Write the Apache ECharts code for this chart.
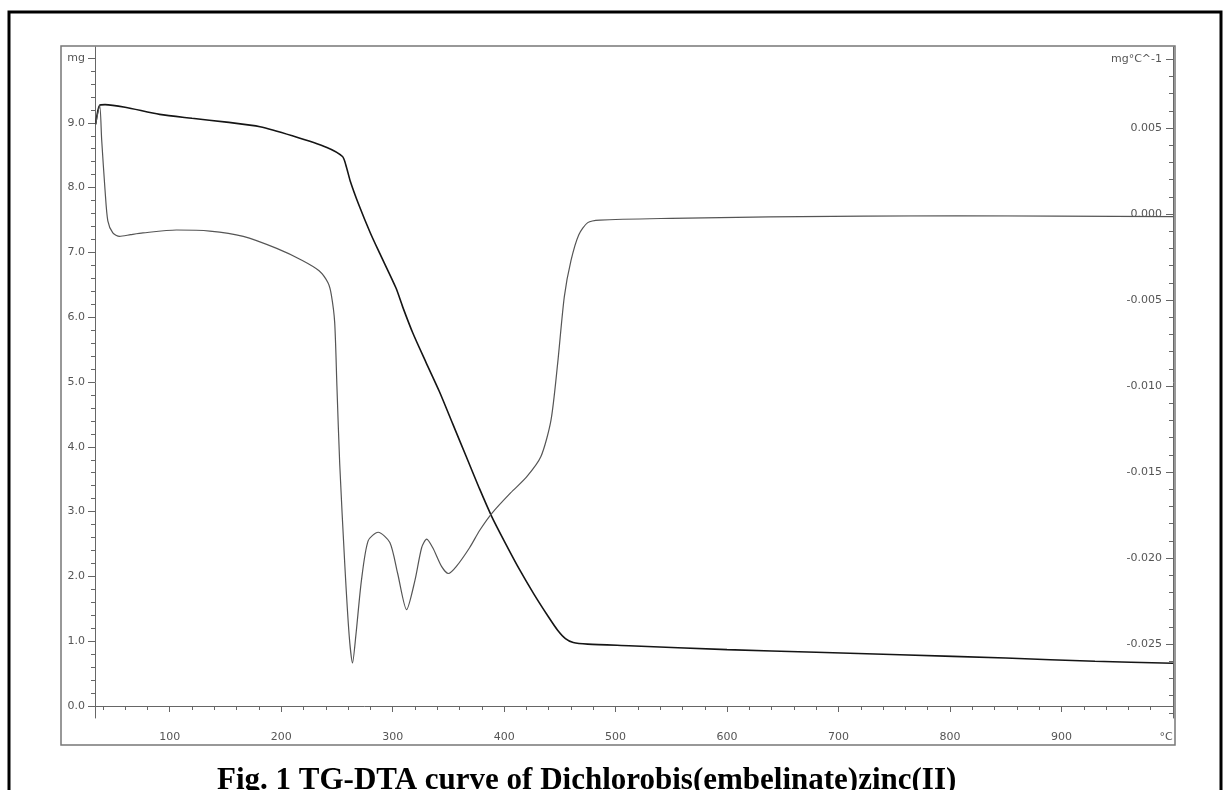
<!DOCTYPE html>
<html><head><meta charset="utf-8">
<script src="https://cdn.jsdelivr.net/npm/echarts@6/dist/echarts.min.js"></script>
<style>html,body{margin:0;padding:0;background:#fff;overflow:hidden}#c{width:1225px;height:790px}</style>
</head><body><div id="c"></div>
<script>
// ---- data ----
const tgTemp = [33.6, 37.2, 42, 60, 91, 120, 151, 181, 210, 241, 255, 258, 262, 270, 280, 288, 303, 309, 318, 330, 342, 354, 366, 378, 389, 400, 414, 427, 440, 448, 455, 462, 475, 512, 600, 680, 755, 850, 930, 1000];
const tgMass = [8.98, 9.27, 9.28, 9.24, 9.13, 9.07, 9.01, 8.94, 8.80, 8.62, 8.48, 8.35, 8.10, 7.72, 7.30, 7.00, 6.45, 6.16, 5.76, 5.30, 4.85, 4.35, 3.85, 3.35, 2.92, 2.55, 2.10, 1.72, 1.37, 1.17, 1.04, 0.98, 0.955, 0.93, 0.87, 0.83, 0.79, 0.74, 0.69, 0.66];
const dtaTemp = [33.6, 37.2, 39, 42, 44.5, 49, 55, 65, 76, 106, 136, 166, 196, 219, 234, 242, 245, 248, 250, 252.5, 257, 261, 264, 267, 272, 278, 287, 297.5, 304.5, 312.5, 320, 326, 330.5, 336, 344, 350, 357, 369, 378, 389, 406, 420, 433, 442, 448, 454, 460, 467, 475, 486, 550, 638, 807, 1000];
const dtaSignal = [0.0052, 0.0063, 0.0043, 0.0014, -0.0004, -0.0011, -0.0013, -0.0012, -0.0011, -0.00093, -0.00099, -0.0013, -0.0020, -0.0027, -0.0033, -0.0040, -0.0047, -0.0063, -0.0100, -0.0145, -0.0203, -0.0245, -0.0261, -0.0245, -0.0213, -0.0190, -0.0185, -0.0191, -0.0209, -0.0230, -0.0213, -0.0194, -0.0189, -0.0194, -0.0205, -0.0209, -0.0205, -0.0194, -0.0184, -0.0174, -0.0162, -0.0153, -0.0141, -0.0120, -0.0087, -0.0048, -0.0027, -0.0012, -0.0005, -0.00035, -0.00025, -0.00017, -0.0001, -0.00015];

const tempTicks = [100, 200, 300, 400, 500, 600, 700, 800, 900, 1000];
const massTicks = [0, 1, 2, 3, 4, 5, 6, 7, 8, 9, 10];
const dtaTicks = [0.009, 0.005, 0, -0.005, -0.010, -0.015, -0.020, -0.025];
const tempUnit = '°C';
const massUnit = 'mg';
const dtaUnit = 'mg°C^-1';
const titleText = 'Fig. 1 TG-DTA curve of Dichlorobis(embelinate)zinc(II)';

// minor tick positions
const tempMinor = [];
for (let t = 40; t < 1000; t += 20) if (t % 100 !== 0) tempMinor.push(t);
const massMinor = [];
for (let i = 1; i <= 50; i++) if (i % 5 !== 0) massMinor.push(i / 5);
const dtaMinor = [];
for (let i = -29; i <= 9; i++) if (i % 5 !== 0 && i !== 9) dtaMinor.push(i / 1000);

const axisGray = '#666';
const labelFont = '"DejaVu Sans", Verdana, sans-serif';
const labelStyle = { color: '#555', fontSize: 11, fontFamily: labelFont };

const chart = echarts.init(document.getElementById('c'), null, { renderer: 'canvas' });
chart.setOption({
  animation: false,
  backgroundColor: '#fff',
  grid: { left: 95, right: 52, top: 47, bottom: 72, containLabel: false },
  xAxis: [
    {
      type: 'value', min: 33, max: 1000, position: 'bottom',
      axisLine: { show: true, lineStyle: { color: axisGray, width: 1 } },
      axisTick: { show: true, customValues: tempTicks, length: 6, lineStyle: { color: axisGray } },
      axisLabel: Object.assign({
        customValues: tempTicks, margin: 14,
        formatter: v => (v === 1000 ? '{u|' + tempUnit + '}' : String(v)),
        rich: { u: { color: '#555', fontSize: 11, fontFamily: labelFont, padding: [0, 14, 0, 0] } }
      }, labelStyle),
      splitLine: { show: false }
    },
    {
      type: 'value', min: 33, max: 1000, position: 'bottom',
      axisLine: { show: false },
      axisTick: { show: true, customValues: tempMinor, length: 4, lineStyle: { color: axisGray } },
      axisLabel: { show: false },
      splitLine: { show: false }
    }
  ],
  yAxis: [
    {
      type: 'value', min: -0.185, max: 10.17, position: 'left',
      axisLine: { show: true, lineStyle: { color: axisGray, width: 1 } },
      axisTick: { show: true, customValues: massTicks, length: 7, lineStyle: { color: axisGray } },
      axisLabel: Object.assign({ customValues: massTicks, margin: 10, formatter: v => (v === 10 ? massUnit : v.toFixed(1)) }, labelStyle),
      splitLine: { show: false }
    },
    {
      type: 'value', min: -0.185, max: 10.17, position: 'left',
      axisLine: { show: false },
      axisTick: { show: true, customValues: massMinor, length: 4, lineStyle: { color: axisGray } },
      axisLabel: { show: false },
      splitLine: { show: false }
    },
    {
      type: 'value', min: -0.0293, max: 0.00971, position: 'right',
      axisLine: { show: true, lineStyle: { color: axisGray, width: 1 } },
      axisTick: { show: true, inside: true, customValues: dtaTicks, length: 7, lineStyle: { color: axisGray } },
      axisLabel: Object.assign({ inside: true, customValues: dtaTicks, margin: 11, formatter: v => (v > 0.008 ? dtaUnit : v.toFixed(3)) }, labelStyle),
      splitLine: { show: false }
    },
    {
      type: 'value', min: -0.0293, max: 0.00971, position: 'right',
      axisLine: { show: false },
      axisTick: { show: true, inside: true, customValues: dtaMinor, length: 4, lineStyle: { color: axisGray } },
      axisLabel: { show: false },
      splitLine: { show: false }
    }
  ],
  series: [
    {
      name: 'TG', type: 'line', xAxisIndex: 0, yAxisIndex: 0,
      data: tgTemp.map((t, i) => [t, tgMass[i]]),
      showSymbol: false, smooth: 0.25,
      lineStyle: { color: '#151515', width: 1.6 }
    },
    {
      name: 'DTA', type: 'line', xAxisIndex: 0, yAxisIndex: 2,
      data: dtaTemp.map((t, i) => [t, dtaSignal[i]]),
      showSymbol: false, smooth: 0.25,
      lineStyle: { color: '#555', width: 1.2 }
    }
  ],
  graphic: [
    { type: 'rect', silent: true, z: -1, shape: { x: 61, y: 46, width: 1114, height: 699 }, style: { fill: null, stroke: '#777', lineWidth: 1.5 } },
    { type: 'rect', silent: true, z: -1, shape: { x: 9, y: 12, width: 1212, height: 800 }, style: { fill: null, stroke: '#000', lineWidth: 3 } },
    { type: 'text', silent: true, left: 217, top: 765, style: { text: titleText, fill: '#000', font: 'bold 31px "Liberation Serif", "Times New Roman", serif' } }
  ]
});
</script>
</body></html>
